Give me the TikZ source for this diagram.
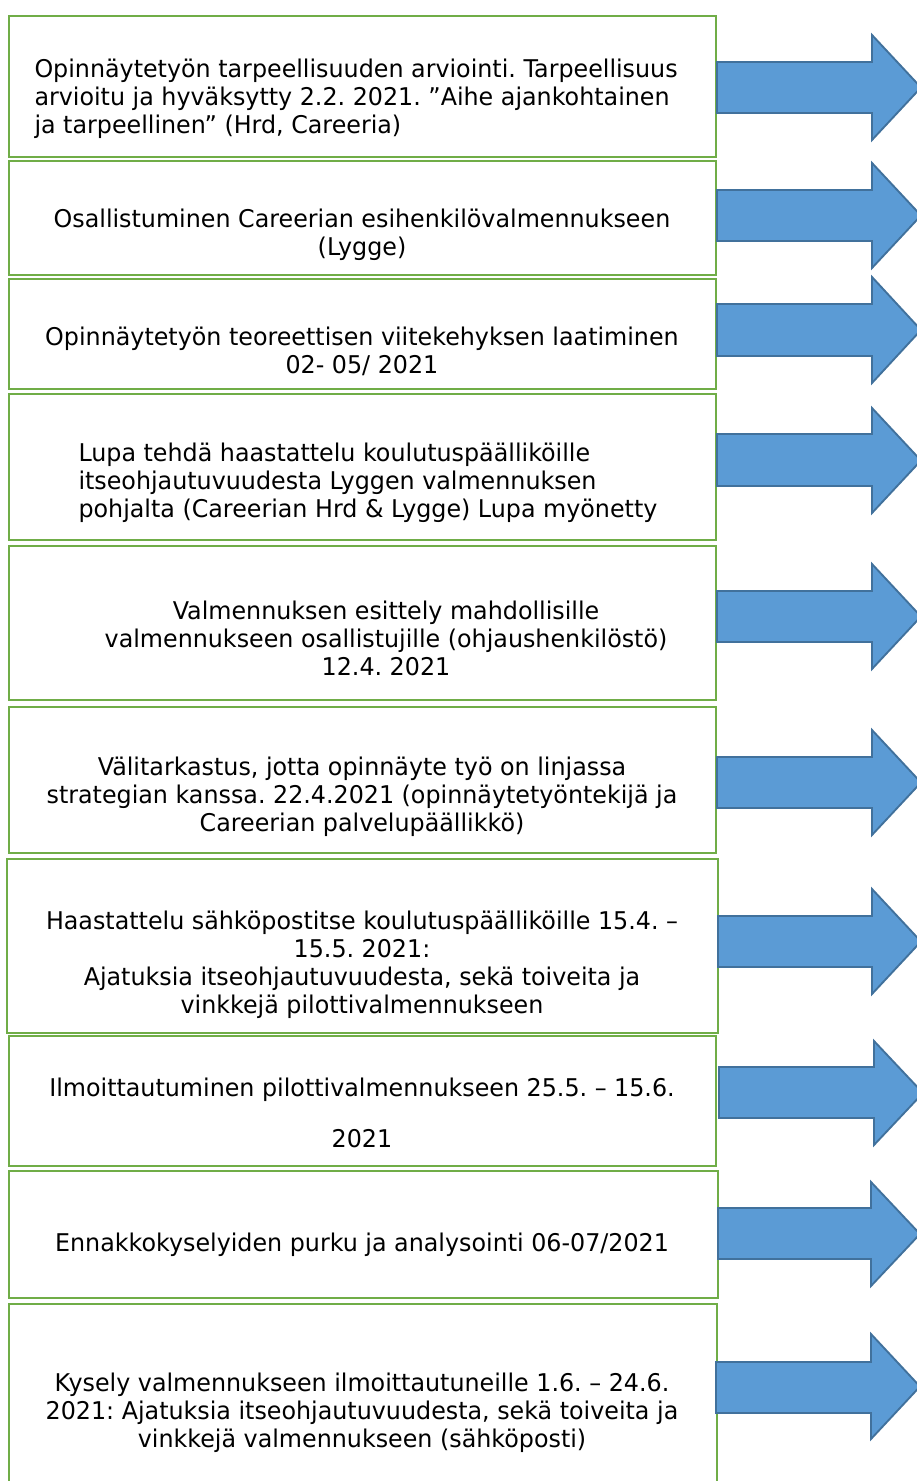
\documentclass[tikz,border=0pt]{standalone}
\usepackage{fontspec}
\setmainfont{DejaVu Sans}[FakeStretch=0.975]
\frenchspacing
\definecolor{boxgreen}{RGB}{112,173,71}
\definecolor{arrowfill}{RGB}{91,155,213}
\definecolor{arrowline}{RGB}{65,113,156}
\tikzset{every picture/.style={line width=0.75pt}}
\tikzset{
  stepbox/.style={draw=boxgreen, line width=2pt},
  bluearrow/.style={draw=arrowline, fill=arrowfill, line width=1.4pt, line join=miter},
  steptext/.style={inner sep=0pt, align=center, font=\fontsize{18.3pt}{21pt}\selectfont}
}

\begin{document}
\begin{tikzpicture}[x=0.75pt,y=0.75pt,yscale=-1,xscale=1]
%set diagram left start at 0, and has height of 1481
\useasboundingbox (0,0) rectangle (917,1481);
\clip (0,0) rectangle (917,1481);

%Shape: Rectangle
\draw [stepbox] (9,16) rectangle (716,157) ;
%Shape: Rectangle
\draw [stepbox] (9,161) rectangle (716,275) ;
%Shape: Rectangle
\draw [stepbox] (9,279) rectangle (716,389) ;
%Shape: Rectangle
\draw [stepbox] (9,394) rectangle (716,540) ;
%Shape: Rectangle
\draw [stepbox] (9,546) rectangle (716,700) ;
%Shape: Rectangle
\draw [stepbox] (9,707) rectangle (716,853) ;
%Shape: Rectangle
\draw [stepbox] (7,859) rectangle (718,1033) ;
%Shape: Rectangle
\draw [stepbox] (9,1036) rectangle (716,1166) ;
%Shape: Rectangle
\draw [stepbox] (9,1171) rectangle (718,1298) ;
%Shape: Rectangle
\draw [stepbox] (9,1304) rectangle (717,1500) ;

%Shape: Right Arrow
\draw [bluearrow] (717,62) -- (872,62) -- (872,35) -- (921,87.5) -- (872,140) -- (872,113) -- (717,113) -- cycle ;
%Shape: Right Arrow
\draw [bluearrow] (717,190) -- (872,190) -- (872,163) -- (921,215.5) -- (872,268) -- (872,241) -- (717,241) -- cycle ;
%Shape: Right Arrow
\draw [bluearrow] (717,304) -- (872,304) -- (872,277) -- (921,330) -- (872,383) -- (872,356) -- (717,356) -- cycle ;
%Shape: Right Arrow
\draw [bluearrow] (717,434) -- (872,434) -- (872,408) -- (921,460.5) -- (872,513) -- (872,486) -- (717,486) -- cycle ;
%Shape: Right Arrow
\draw [bluearrow] (717,591) -- (872,591) -- (872,564) -- (921,616.5) -- (872,669) -- (872,642) -- (717,642) -- cycle ;
%Shape: Right Arrow
\draw [bluearrow] (717,757) -- (872,757) -- (872,730) -- (921,782.5) -- (872,835) -- (872,808) -- (717,808) -- cycle ;
%Shape: Right Arrow
\draw [bluearrow] (718,916) -- (872,916) -- (872,889) -- (921,941.5) -- (872,994) -- (872,967) -- (718,967) -- cycle ;
%Shape: Right Arrow
\draw [bluearrow] (719,1067) -- (874,1067) -- (874,1041) -- (923,1093) -- (874,1145) -- (874,1118) -- (719,1118) -- cycle ;
%Shape: Right Arrow
\draw [bluearrow] (718,1208) -- (871,1208) -- (871,1182) -- (920,1234) -- (871,1286) -- (871,1259) -- (718,1259) -- cycle ;
%Shape: Right Arrow
\draw [bluearrow] (716,1362) -- (871,1362) -- (871,1334) -- (920,1386.5) -- (871,1439) -- (871,1413) -- (716,1413) -- cycle ;

% Text Node
\draw (34,99) node (t1) [steptext, anchor=west, align=left] {Opinnäytetyön tarpeellisuuden arviointi. Tarpeellisuus\\arvioitu ja hyväksytty 2.2. 2021. ”Aihe ajankohtainen\\ja tarpeellinen” (Hrd, Careeria)};
% Text Node
\draw (362,235) node (t2) [steptext] {Osallistuminen Careerian esihenkilövalmennukseen\\(Lygge)};
% Text Node
\draw (362,351) node (t3) [steptext] {Opinnäytetyön teoreettisen viitekehyksen laatiminen\\02- 05/ 2021};
% Text Node
\draw (78,483) node (t4) [steptext, anchor=west, align=left] {Lupa tehdä haastattelu koulutuspäälliköille\\itseohjautuvuudesta Lyggen valmennuksen\\pohjalta (Careerian Hrd \& Lygge) Lupa myönetty};
% Text Node
\draw (386,638) node (t5) [steptext] {Valmennuksen esittely mahdollisille\\valmennukseen osallistujille (ohjaushenkilöstö)\\12.4. 2021};
% Text Node
\draw (362,797) node (t6) [steptext] {Välitarkastus, jotta opinnäyte työ on linjassa\\strategian kanssa. 22.4.2021 (opinnäytetyöntekijä ja\\Careerian palvelupäällikkö)};
% Text Node
\draw (362,965) node (t7) [steptext] {Haastattelu sähköpostitse koulutuspäälliköille 15.4. –\\15.5. 2021:\\Ajatuksia itseohjautuvuudesta, sekä toiveita ja\\vinkkejä pilottivalmennukseen};
% Text Node
\draw (362,1112.5) node (t8) [steptext] {Ilmoittautuminen pilottivalmennukseen 25.5. – 15.6.\\[17.2pt]2021};
% Text Node
\draw (362,1245) node (t9) [steptext] {Ennakkokyselyiden purku ja analysointi 06-07/2021};
% Text Node
\draw (362,1413) node (t10) [steptext] {Kysely valmennukseen ilmoittautuneille 1.6. – 24.6.\\2021: Ajatuksia itseohjautuvuudesta, sekä toiveita ja\\vinkkejä valmennukseen (sähköposti)};

\end{tikzpicture}
\end{document}
